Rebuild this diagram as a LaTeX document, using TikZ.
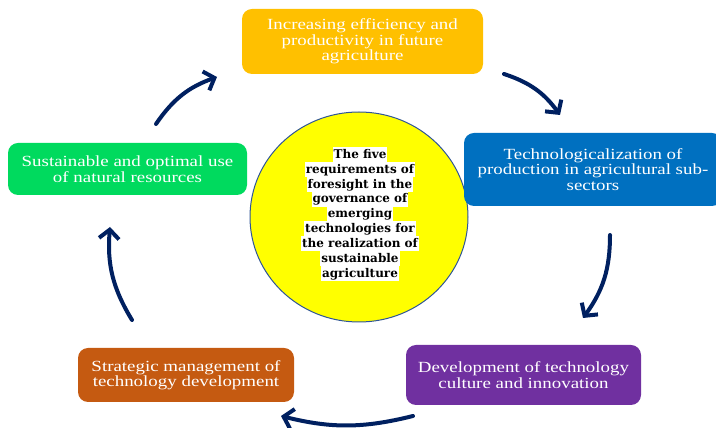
\documentclass[tikz,border=0pt]{standalone}
\usepackage{fontspec}
\setmainfont{Liberation Serif}
\newfontfamily\stagefont[FakeStretch=1.22]{Liberation Serif}
\newfontfamily\hubfont{DejaVu Serif}
\usetikzlibrary{arrows.meta,shapes.geometric}

\definecolor{goldbox}{HTML}{FFC000}
\definecolor{bluebox}{HTML}{0070C0}
\definecolor{greenbox}{HTML}{00DA5E}
\definecolor{purplebox}{HTML}{7030A0}
\definecolor{rustbox}{HTML}{C55A11}
\definecolor{navy}{HTML}{002060}
\definecolor{hubyellow}{HTML}{FFFF00}
\definecolor{hubedge}{HTML}{2F5597}

% one highlighted line of the central statement
\newcommand\hubline[1]{\setlength\fboxsep{0pt}\colorbox{white}{\rule[-3.6pt]{0pt}{14.9pt}\kern1pt#1\kern1pt}}

\tikzset{
  stage/.style={rectangle, rounded corners=10pt, inner sep=0pt, text=white,
    font=\stagefont\fontsize{15.5}{15.5}\selectfont, align=center},
  cyc/.style={draw=navy, line width=4pt, line cap=round,
    -{Straight Barb[length=9pt,width=20pt]}},
}

\begin{document}
\begin{tikzpicture}[x=1pt,y=1pt]
\useasboundingbox (0,0) rectangle (716,428);
\clip (0,0) rectangle (716,428);

% central statement
\node[ellipse, draw=hubedge, line width=1pt, fill=hubyellow, inner sep=0pt,
      minimum width=218pt, minimum height=210pt] (hub) at (359,211) {};
\node[align=center, inner sep=0pt, font=\hubfont\bfseries\fontsize{12}{14.9}\selectfont]
  (hubtext) at (360,214) {\hubline{The five}\\\hubline{requirements of}\\\hubline{foresight in the}\\
  \hubline{governance of}\\\hubline{emerging}\\\hubline{technologies for}\\
  \hubline{the realization of}\\\hubline{sustainable}\\\hubline{agriculture}};

% the five requirements
\node[stage, fill=goldbox, minimum width=241pt, minimum height=65pt] (eff) at (362.5,386.5)
  {Increasing efficiency and\\productivity in future\\agriculture};
\node[stage, fill=bluebox, minimum width=258pt, minimum height=73pt] (tech) at (593,258.5)
  {Technologicalization of\\production in agricultural sub-\\sectors};
\node[stage, fill=purplebox, minimum width=235pt, minimum height=60pt] (cult) at (523.5,53)
  {Development of technology\\culture and innovation};
\node[stage, fill=rustbox, minimum width=216pt, minimum height=54pt] (strat) at (186,53)
  {Strategic management of\\technology development};
\node[stage, fill=greenbox, minimum width=239pt, minimum height=52pt] (res) at (127.5,259)
  {Sustainable and optimal use\\of natural resources};

% cycle arrows
\coordinate (a1s) at (156,304); \coordinate (a1e) at (217,351);
\coordinate (a2s) at (504,354); \coordinate (a2e) at (560,313);
\coordinate (a3s) at (610,193); \coordinate (a3e) at (583,110);
\coordinate (a4s) at (413,12);  \coordinate (a4e) at (281,12);
\coordinate (a5s) at (132,108); \coordinate (a5e) at (110,201);

\draw[cyc] (a1s) to[bend left=18] (a1e);
\draw[cyc] (a2s) to[bend left=18] (a2e);
\draw[cyc] (a3s) to[bend left=18] (a3e);
\draw[cyc] (a4s) to[bend left=14] (a4e);
\draw[cyc] (a5s) to[bend left=18] (a5e);
\end{tikzpicture}
\end{document}
